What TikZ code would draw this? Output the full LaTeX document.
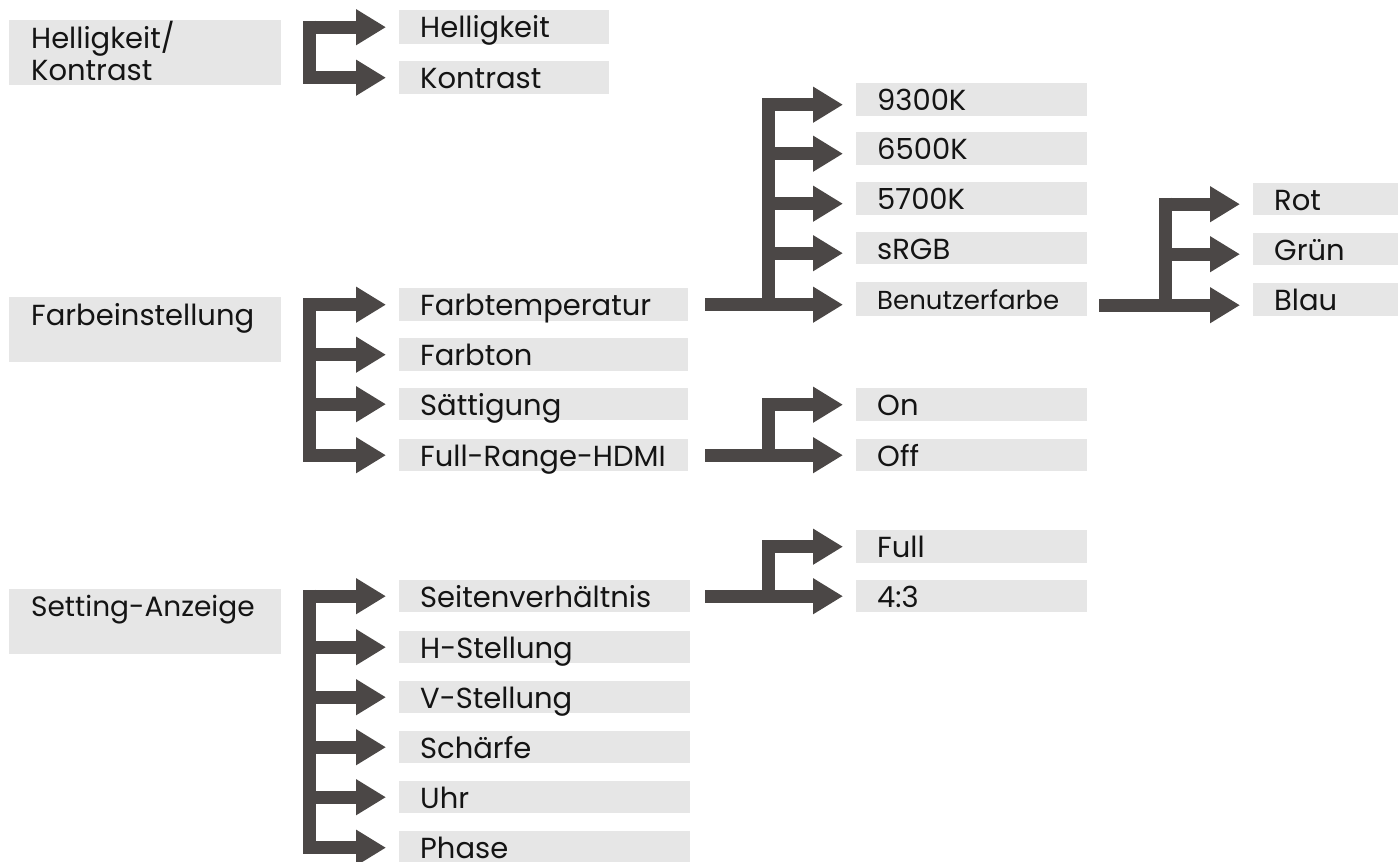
\documentclass[tikz,border=0pt]{standalone}
\usepackage{fontspec}
\setmainfont{Poppins}
\usetikzlibrary{arrows.meta}
\definecolor{boxgray}{HTML}{E6E6E6}
\definecolor{arrowgray}{HTML}{4B4746}
\definecolor{txtcol}{HTML}{141414}
\newcommand{\menuitem}[7][29]{%
  \node[mbox, minimum width=#5pt, minimum height=#6pt] (#2) at (#3,#4) {};
  \node[mtxt, font=\fontsize{#1}{#1}\selectfont] (#2-t) at ([shift={(21,27)}]#2.north west) {#7};}
\begin{document}
\begin{tikzpicture}[x=1pt,y=-1pt,
  mbox/.style={rectangle, fill=boxgray, draw=none, anchor=north west, inner sep=0pt},
  mtxt/.style={anchor=base west, inner sep=0pt, text=txtcol},
  bar/.style={draw=arrowgray, line width=13pt, line cap=butt, shorten <=-6.5pt, shorten >=-6.5pt},
  conn/.style={draw=arrowgray, line width=13pt, line cap=butt, -{Triangle[length=30pt,width=34pt]}, shorten >=13pt}]
\useasboundingbox (0,0) rectangle (1398,862);
\fill[white] (0,0) rectangle (1398,862);

% level 1
\node[mbox, minimum width=272pt, minimum height=65pt] (hk) at (9,20) {};
\node[mtxt, font=\fontsize{29}{29}\selectfont] (hk-t1) at ([shift={(22,28)}]hk.north west) {Helligkeit/};
\node[mtxt, font=\fontsize{29}{29}\selectfont] (hk-t2) at ([shift={(22,60)}]hk.north west) {Kontrast};
\node[mbox, minimum width=272pt, minimum height=65pt] (fe) at (9,297) {};
\node[mtxt, font=\fontsize{29}{29}\selectfont] (fe-t) at ([shift={(22,28)}]fe.north west) {Farbeinstellung};
\node[mbox, minimum width=272pt, minimum height=65pt] (sa) at (9,589) {};
\node[mtxt, font=\fontsize{28}{28}\selectfont] (sa-t) at ([shift={(22,27)}]sa.north west) {Setting-Anzeige};

% level 2
\menuitem{hell}{399}{10}{210}{34}{Helligkeit}
\menuitem{kont}{399}{61}{210}{33}{Kontrast}
\menuitem{ft}{399}{288}{289}{33}{Farbtemperatur}
\menuitem{fton}{399}{338}{289}{33}{Farbton}
\menuitem{sat}{399}{388}{289}{32}{Sättigung}
\menuitem{frh}{399}{439}{289}{32}{Full-Range-HDMI}
\menuitem{sv}{399}{580}{291}{32}{Seitenverhältnis}
\menuitem{hs}{399}{631}{291}{32}{H-Stellung}
\menuitem{vs}{399}{681}{291}{32}{V-Stellung}
\menuitem{sch}{399}{731}{291}{32}{Schärfe}
\menuitem{uhr}{399}{781}{291}{32}{Uhr}
\menuitem{ph}{399}{831}{291}{33}{Phase}

% level 3
\menuitem{k93}{856}{83}{231}{33}{9300K}
\menuitem{k65}{856}{132}{231}{33}{6500K}
\menuitem{k57}{856}{182}{231}{33}{5700K}
\menuitem{srgb}{856}{232}{231}{32}{sRGB}
\menuitem[26]{bf}{856}{282}{231}{34}{Benutzerfarbe}
\menuitem{on}{856}{388}{231}{33}{On}
\menuitem{off}{856}{439}{231}{32}{Off}
\menuitem{full}{856}{530}{231}{33}{Full}
\menuitem{r43}{856}{580}{231}{32}{4:3}

% level 4
\menuitem{rot}{1253}{183}{145}{32}{Rot}
\menuitem{gruen}{1253}{233}{145}{32}{Grün}
\menuitem{blau}{1253}{283}{145}{33}{Blau}

% group A
\coordinate (a0) at (303,0);
\coordinate (abar) at (309.5,0);
\draw[bar] (hell.west -| abar) -- (kont.west -| abar);
\foreach \n in {hell,kont} \draw[conn] (\n.west -| a0) -- (\n.west);

% group B
\draw[bar] (ft.west -| abar) -- (frh.west -| abar);
\foreach \n in {ft,fton,sat,frh} \draw[conn] (\n.west -| a0) -- (\n.west);

% group C
\draw[bar] (sv.west -| abar) -- (ph.west -| abar);
\foreach \n in {sv,hs,vs,sch,uhr,ph} \draw[conn] (\n.west -| a0) -- (\n.west);

% group D
\coordinate (d0) at (762,0);
\coordinate (dbar) at (768,0);
\coordinate (ftout) at ([xshift=17pt]ft.east);
\foreach \n in {k93,k65,k57,srgb} \coordinate (\n-a) at ([yshift=-5pt]\n.west);
\draw[bar] (k93-a -| dbar) -- (ftout -| dbar);
\foreach \n in {k93,k65,k57,srgb} \draw[conn] (\n-a -| d0) -- (\n-a);
\draw[conn] (ftout) -- (ftout -| bf.west);

% group E
\coordinate (e0) at (1159,0);
\coordinate (ebar) at (1165.5,0);
\coordinate (bfout) at ([xshift=12pt,yshift=-6pt]bf.east);
\foreach \n in {rot,gruen} \coordinate (\n-a) at ([yshift=-5pt]\n.west);
\draw[bar] (rot-a -| ebar) -- (bfout -| ebar);
\foreach \n in {rot,gruen} \draw[conn] (\n-a -| e0) -- (\n-a);
\draw[conn] (bfout) -- (bfout -| blau.west);

% group F
\coordinate (fout) at ([xshift=17pt]frh.east);
\draw[bar] (on.west -| dbar) -- (fout -| dbar);
\draw[conn] (on.west -| d0) -- (on.west);
\draw[conn] (fout) -- (fout -| off.west);

% group G
\coordinate (gout) at ([xshift=15pt]sv.east);
\draw[bar] (full.west -| dbar) -- (gout -| dbar);
\draw[conn] (full.west -| d0) -- (full.west);
\draw[conn] (gout) -- (gout -| r43.west);
\end{tikzpicture}
\end{document}
